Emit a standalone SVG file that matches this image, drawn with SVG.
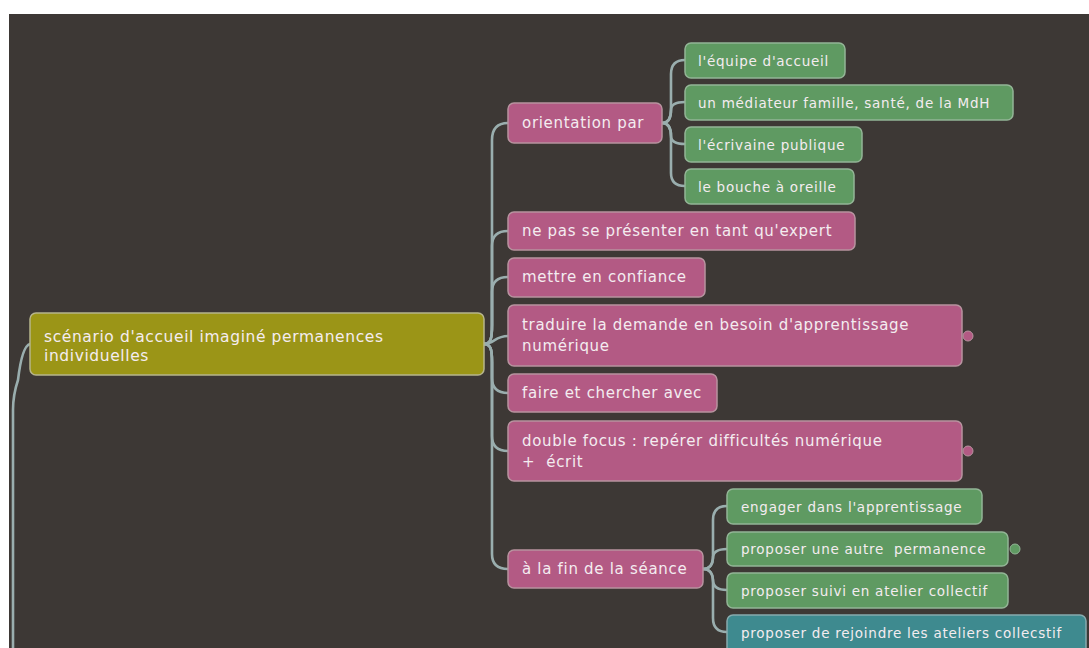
<svg xmlns="http://www.w3.org/2000/svg" width="1089" height="648" viewBox="0 0 1089 648">
<style>
.c{fill:none;stroke:#9aaeae;stroke-width:2.6;stroke-linecap:round}
.pk{fill:#b35a84;stroke:#b8939f;stroke-width:1.5}
.gr{fill:#5f9a62;stroke:#93b596;stroke-width:1.5}
.tl{fill:#3e8a8f;stroke:#86abae;stroke-width:1.5}
.ol{fill:#9b9517;stroke:#b7b58c;stroke-width:1.5}
text{font-family:"DejaVu Sans","Liberation Sans",sans-serif;fill:#f4ecf0;white-space:pre}
.t1{font-size:15px;letter-spacing:0.7px}
.t0{font-size:15.5px;letter-spacing:0.6px}
.t2{font-size:13.5px;letter-spacing:0.75px}
.dp{fill:#b35a84;stroke:#b8939f;stroke-width:1}
.dg{fill:#5f9a62;stroke:#93b596;stroke-width:1}
</style>
<rect width="1089" height="648" fill="#ffffff"/>
<rect x="9" y="14" width="1080" height="634" fill="#3d3835"/>
<g id="connectors">
<path class="c" d="M13,648 L13,410 Q13,395 18,380 Q22,346 30,344"/>
<path class="c" d="M484,344 C491,344 492,338 492,325 L492,140 Q492,123 508,123"/>
<path class="c" d="M484,344 C491,344 492,338 492,325 L492,246 Q492,231 508,231"/>
<path class="c" d="M484,344 C491,344 492,338 492,325 L492,292 Q492,277 508,277"/>
<path class="c" d="M484,344 C494,344 495,336 508,336"/>
<path class="c" d="M484,344 C491,344 492,350 492,362 L492,378 Q492,393 508,393"/>
<path class="c" d="M484,344 C491,344 492,350 492,362 L492,436 Q492,451 508,451"/>
<path class="c" d="M484,344 C491,344 492,350 492,362 L492,554 Q492,569 508,569"/>
<path class="c" d="M662,123 C669,123 671,118 671,110 L671,74 Q671,60 685,60"/>
<path class="c" d="M662,123 C669,123 671,118 671,110 Q671,102 685,102"/>
<path class="c" d="M662,123 C669,123 671,128 671,136 Q671,144 685,144"/>
<path class="c" d="M662,123 C669,123 671,128 671,136 L671,173 Q671,186 685,186"/>
<path class="c" d="M703,569 C710,569 713,564 713,556 L713,520 Q713,506 727,506"/>
<path class="c" d="M703,569 C710,569 713,564 713,558 Q713,549 727,549"/>
<path class="c" d="M703,569 C710,569 713,574 713,580 Q713,590 727,590"/>
<path class="c" d="M703,569 C710,569 713,574 713,582 L713,618 Q713,632 727,632"/>
</g>
<g id="root">
<rect class="ol" x="30" y="313" width="454" height="62" rx="6"/>
<text class="t0" x="44" y="342">scénario d'accueil imaginé permanences</text>
<text class="t0" x="44" y="361">individuelles</text>
</g>
<g id="orientation">
<rect class="pk" x="508" y="103" width="154" height="40" rx="6"/>
<text class="t1" x="522" y="128">orientation par</text>
</g>
<g id="expert">
<rect class="pk" x="508" y="212" width="347" height="38" rx="6"/>
<text class="t1" x="522" y="236">ne pas se présenter en tant qu'expert</text>
</g>
<g id="confiance">
<rect class="pk" x="508" y="258" width="197" height="39" rx="6"/>
<text class="t1" x="522" y="282">mettre en confiance</text>
</g>
<g id="traduire">
<rect class="pk" x="508" y="305" width="454" height="61" rx="6"/>
<text class="t1" x="522" y="330">traduire la demande en besoin d'apprentissage</text>
<text class="t1" x="522" y="351">numérique</text>
<circle class="dp" cx="968" cy="336" r="5"/>
</g>
<g id="faire">
<rect class="pk" x="508" y="374" width="209" height="38" rx="6"/>
<text class="t1" x="522" y="398">faire et chercher avec</text>
</g>
<g id="double">
<rect class="pk" x="508" y="421" width="454" height="60" rx="6"/>
<text class="t1" x="522" y="446">double focus : repérer difficultés numérique</text>
<text class="t1" x="522" y="467">+  écrit</text>
<circle class="dp" cx="968" cy="451" r="5"/>
</g>
<g id="fin">
<rect class="pk" x="508" y="550" width="195" height="38" rx="6"/>
<text class="t1" x="522" y="574">à la fin de la séance</text>
</g>
<g id="equipe">
<rect class="gr" x="685" y="43" width="160" height="35" rx="6"/>
<text class="t2" x="698" y="66">l'équipe d'accueil</text>
</g>
<g id="mediateur">
<rect class="gr" x="685" y="85" width="328" height="35" rx="6"/>
<text class="t2" x="698" y="108">un médiateur famille, santé, de la MdH</text>
</g>
<g id="ecrivaine">
<rect class="gr" x="685" y="127" width="177" height="35" rx="6"/>
<text class="t2" x="698" y="150">l'écrivaine publique</text>
</g>
<g id="bouche">
<rect class="gr" x="685" y="169" width="169" height="35" rx="6"/>
<text class="t2" x="698" y="192">le bouche à oreille</text>
</g>
<g id="engager">
<rect class="gr" x="727" y="489" width="255" height="35" rx="6"/>
<text class="t2" x="741" y="512">engager dans l'apprentissage</text>
</g>
<g id="autre">
<rect class="gr" x="727" y="532" width="281" height="34" rx="6"/>
<text class="t2" x="741" y="554">proposer une autre  permanence</text>
<circle class="dg" cx="1015" cy="549" r="5"/>
</g>
<g id="suivi">
<rect class="gr" x="727" y="573" width="281" height="35" rx="6"/>
<text class="t2" x="741" y="596">proposer suivi en atelier collectif</text>
</g>
<g id="rejoindre">
<rect class="tl" x="727" y="615" width="359" height="40" rx="6"/>
<text class="t2" x="741" y="638">proposer de rejoindre les ateliers collecstif</text>
</g>
</svg>
